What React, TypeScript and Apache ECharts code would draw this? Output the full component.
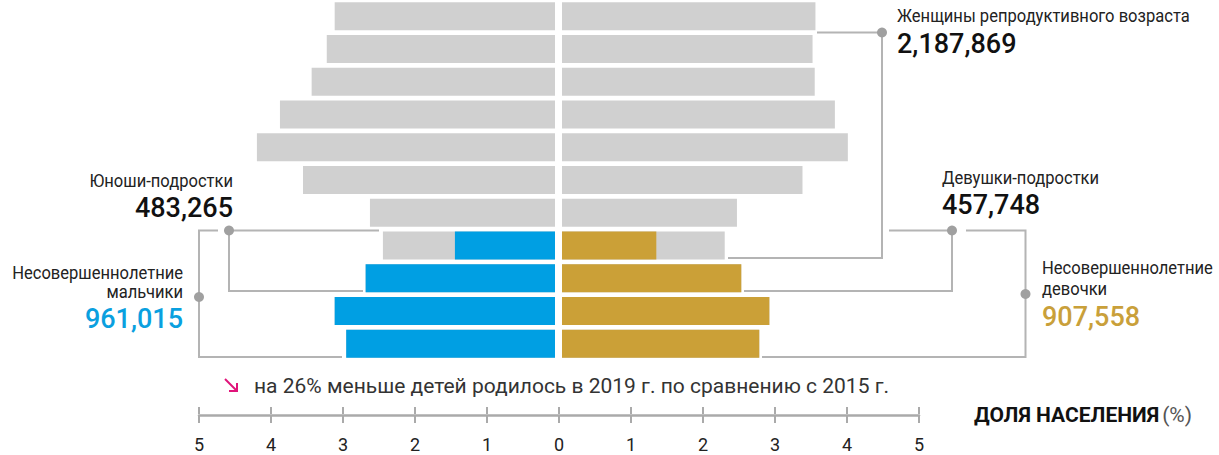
import React, { useEffect, useRef } from "react";
import * as echarts from "echarts";

const categories = ["50–54", "45–49", "40–44", "35–39", "30–34", "25–29", "20–24", "15–19", "10–14", "5–9", "0–4"];
const maleTotal = [3.06, 3.17, 3.38, 3.82, 4.14, 3.5, 2.57, 2.39, 2.63, 3.06, 2.9];
const maleMinor = [null, null, null, null, null, null, null, 1.39, 2.63, 3.06, 2.9];
const femaleTotal = [3.52, 3.48, 3.51, 3.79, 3.97, 3.34, 2.43, 2.26, 2.49, 2.88, 2.74];
const femaleMinor = [null, null, null, null, null, null, null, 1.31, 2.49, 2.88, 2.74];
const axisTicks = [-5, 5];

const GRAY = "#d0d0d0";
const BLUE = "#009fe3";
const GOLD = "#cba037";
const LINE = "#b4b4b4";
const DOT = "#a0a0a0";
const FONT = "Roboto, 'Noto Sans', sans-serif";

function txt(text: string, x: number, y: number, align: string, size: number, color: string, weight: any = "normal", sx = 1) {
  return {
    type: "text",
    x,
    y,
    scaleX: sx,
    silent: true,
    style: {
      text,
      fill: color,
      fontSize: size,
      fontFamily: FONT,
      fontWeight: weight,
      textAlign: align,
      align,
      textVerticalAlign: "middle",
      verticalAlign: "middle",
    },
  };
}
function pl(points: number[][]) {
  return { type: "polyline", silent: true, shape: { points }, style: { stroke: LINE, lineWidth: 2, fill: "none" } };
}
function dot(x: number, y: number) {
  return { type: "circle", silent: true, shape: { cx: x, cy: y, r: 5 }, style: { fill: DOT } };
}

export default function App() {
  const ref = useRef<HTMLDivElement>(null);
  useEffect(() => {
    document.body.style.margin = "0";
    const chart = echarts.init(ref.current!, null, { renderer: "svg" });
    const hiddenCat = (gridIndex: number) => ({
      type: "category",
      gridIndex,
      data: categories,
      inverse: true,
      show: false,
    });
    const hiddenVal = (gridIndex: number, inverse: boolean) => ({
      type: "value",
      gridIndex,
      min: 0,
      max: 5,
      inverse,
      show: false,
    });
    const LS = 0.92;
    chart.setOption({
      animation: false,
      textStyle: { fontFamily: FONT },
      grid: [
        { left: 195, width: 360, top: -4, height: 364 },
        { left: 562, width: 360, top: -4, height: 364 },
        { left: 199, width: 720, top: 414, height: 1 },
      ],
      xAxis: [
        hiddenVal(0, true),
        hiddenVal(1, false),
        {
          type: "value",
          gridIndex: 2,
          min: axisTicks[0],
          max: axisTicks[1],
          interval: 1,
          position: "bottom",
          axisLine: { show: true, lineStyle: { color: "#aaaaaa", width: 2.5 } },
          axisTick: { show: true, length: 8, lineStyle: { color: "#aaaaaa", width: 2 } },
          splitLine: { show: false },
          axisLabel: {
            margin: 20,
            fontSize: 18,
            color: "#222",
            fontFamily: FONT,
            formatter: (v: number) => String(Math.abs(v)),
          },
          name: "{b|ДОЛЯ НАСЕЛЕНИЯ} {n|(%)}",
          nameLocation: "end",
          nameGap: 55,
          nameTextStyle: {
            align: "left",
            verticalAlign: "middle",
            rich: {
              b: { fontWeight: "bold", fontSize: 21, color: "#111", fontFamily: FONT },
              n: { fontSize: 21, color: "#555", fontFamily: FONT },
            },
          },
        },
        {
          type: "value",
          gridIndex: 2,
          min: axisTicks[0],
          max: axisTicks[1],
          interval: 1,
          position: "top",
          axisLine: { show: false },
          axisTick: { show: true, length: 7, lineStyle: { color: "#aaaaaa", width: 2 } },
          splitLine: { show: false },
          axisLabel: { show: false },
        },
      ],
      yAxis: [hiddenCat(0), hiddenCat(1), { type: "value", gridIndex: 2, show: false }],
      series: [
        { type: "bar", xAxisIndex: 0, yAxisIndex: 0, data: maleTotal, barWidth: 28, barGap: "-100%", itemStyle: { color: GRAY }, silent: true },
        { type: "bar", xAxisIndex: 0, yAxisIndex: 0, data: maleMinor, barWidth: 28, barGap: "-100%", itemStyle: { color: BLUE }, silent: true },
        { type: "bar", xAxisIndex: 1, yAxisIndex: 1, data: femaleTotal, barWidth: 28, barGap: "-100%", itemStyle: { color: GRAY }, silent: true },
        { type: "bar", xAxisIndex: 1, yAxisIndex: 1, data: femaleMinor, barWidth: 28, barGap: "-100%", itemStyle: { color: GOLD }, silent: true },
      ],
      graphic: [
        // left brackets
        pl([[218, 230.5], [199, 230.5], [199, 357], [342, 357]]),
        dot(199, 297),
        pl([[379, 230.5], [229, 230.5], [229, 291], [363, 291]]),
        dot(229, 230.5),
        // right brackets
        pl([[817, 32.5], [882, 32.5], [882, 258], [728, 258]]),
        dot(882, 32.5),
        pl([[889, 230.5], [952, 230.5], [952, 291], [744, 291]]),
        dot(952, 230.5),
        pl([[966, 230.5], [1025.5, 230.5], [1025.5, 357], [762, 357]]),
        dot(1025.5, 294),
        // texts
        txt("Юноши-подростки", 233, 181, "right", 18, "#222", "normal", LS),
        txt("483,265", 233, 208, "right", 27, "#111", 500),
        txt("Несовершеннолетние", 183, 273, "right", 18, "#222", "normal", LS),
        txt("мальчики", 183, 292, "right", 18, "#222", "normal", LS),
        txt("961,015", 183, 319, "right", 27, "#0aa0df", 500),
        txt("Женщины репродуктивного возраста", 897, 16, "left", 18, "#222", "normal", LS),
        txt("2,187,869", 897, 44, "left", 27, "#111", 500),
        txt("Девушки-подростки", 942, 178, "left", 18, "#222", "normal", LS),
        txt("457,748", 942, 205, "left", 27, "#111", 500),
        txt("Несовершеннолетние", 1042, 268, "left", 18, "#222", "normal", LS),
        txt("девочки", 1042, 289, "left", 18, "#222", "normal", LS),
        txt("907,558", 1042, 317, "left", 27, "#c9a03a", 500),
        // arrow
        { type: "line", silent: true, shape: { x1: 225, y1: 379, x2: 236, y2: 390 }, style: { stroke: "#e0147a", lineWidth: 2 } },
        { type: "polyline", silent: true, shape: { points: [[229, 391], [237, 391], [237, 383]] }, style: { stroke: "#e0147a", lineWidth: 2, fill: "none" } },
        txt("на 26% меньше детей родилось в 2019 г. по сравнению с 2015 г.", 254, 386, "left", 21, "#333"),
      ],
    });
    return () => chart.dispose();
  }, []);
  return <div ref={ref} style={{ width: 1219, height: 455 }} />;
}
